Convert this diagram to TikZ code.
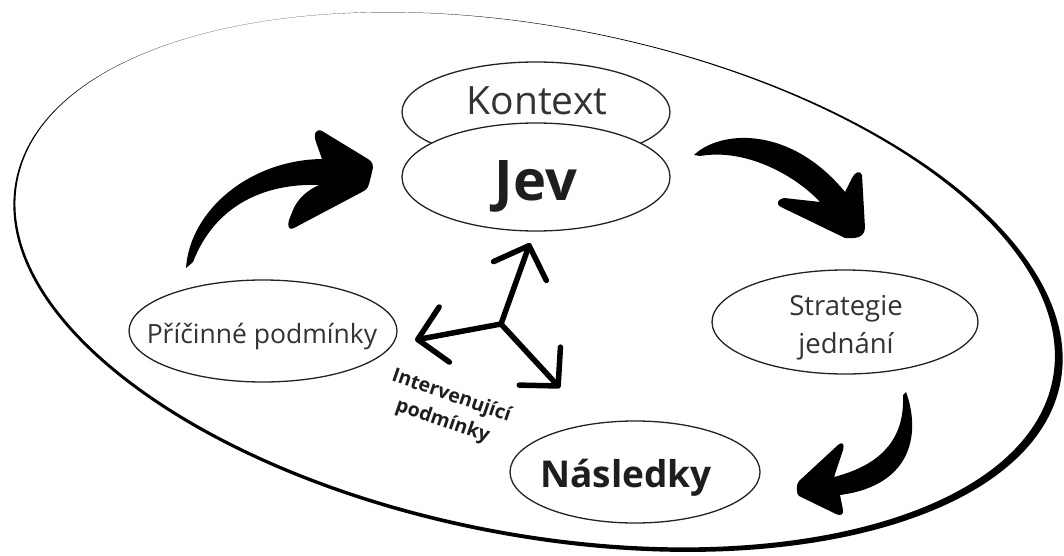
\documentclass[tikz,border=0pt]{standalone}
\usepackage{fontspec}
\setmainfont{Open Sans}
\usetikzlibrary{arrows.meta,shapes.geometric}
\definecolor{txt}{HTML}{333333}
\definecolor{txtb}{HTML}{1E1E1E}
\definecolor{edge}{HTML}{222222}
\tikzset{
  oval/.style={ellipse, draw=edge, line width=1.3pt, fill=white, inner sep=0pt},
  lbl/.style={inner sep=0pt, anchor=base, text=txt},
  hubarrow/.style={line width=5.5pt, line cap=round, line join=round,
    -{Straight Barb[length=27pt,width=56pt,round]}},
  brush/.style={fill=black}
}
\begin{document}
\begin{tikzpicture}[x=1pt,y=-1pt]
\useasboundingbox (0,0) rectangle (1064,556);
% outer brush ellipse (crescent)
\fill[black, even odd rule, shift={(538,282)}, rotate=-10.9]
  (0,0) ellipse [x radius=532, y radius=255]
  (-3.2,-1.6) ellipse [x radius=527, y radius=252.8];

% nodes
\node[oval, minimum width=268pt, minimum height=100pt] (kontext) at (536,112) {};
\node[oval, minimum width=268pt, minimum height=108pt] (jev) at (536,177) {};
\node[oval, minimum width=268pt, minimum height=102pt] (pricinne) at (263,331) {};
\node[oval, minimum width=266pt, minimum height=104pt] (strategie) at (845,322) {};
\node[oval, minimum width=250pt, minimum height=102pt] (nasledky) at (635,472) {};

\node[lbl] (tkontext) at (537,115) {\fontsize{39}{39}\selectfont Kontext};
\node[lbl, text=txtb] (tjev) at (536,200) {\fontsize{56}{56}\selectfont\bfseries Jev};
\node[lbl] (tpricinne) at (262,343) {\fontsize{26.5}{26.5}\selectfont Příčinné podmínky};
\node[lbl] (tstrat1) at (846,315) {\fontsize{27.5}{27.5}\selectfont Strategie};
\node[lbl] (tstrat2) at (846,353) {\fontsize{27.5}{27.5}\selectfont jednání};
\node[lbl, text=txtb] (tnasledky) at (626,487) {\fontsize{37}{37}\selectfont\bfseries Následky};
\node[inner sep=0pt, rotate=-19, align=center, text=txtb,
  font=\fontsize{19.5}{27}\selectfont\bfseries] (tinterv) at (447,409)
  {Intervenující\\ podmínky};

% hub arrows
\coordinate (hub) at (501,324);
\coordinate (tipJ) at (530,243);
\coordinate (tipP) at (415,340);
\coordinate (tipN) at (560,388);
\draw[hubarrow] (hub) -- (tipJ);
\draw[hubarrow] (hub) -- (tipP);
\draw[hubarrow] (hub) -- (tipN);

% brush arrow: Pricinne -> Jev
\fill[brush] (186,268) .. controls (190,210) and (250,160) .. (322,159)
  -- (316,142) .. controls (313,134) and (316,128) .. (322,131)
  -- (368,159) .. controls (373,162) and (374,166) .. (372,172)
  -- (369,184) .. controls (368,188) and (366,190) .. (362,192)
  -- (294,228) .. controls (289,231) and (287,226) .. (289,220)
  -- (293,210) .. controls (298,198) and (308,190) .. (319,185)
  .. controls (265,183) and (215,205) .. (193,262) -- cycle;

% brush arrow: Jev -> Strategie
\fill[brush] (694,155) .. controls (720,130) and (790,125) .. (845,192)
  -- (852,178) .. controls (855,172) and (860,170) .. (862,175)
  -- (865,228) .. controls (865,234) and (860,238) .. (854,238)
  -- (845,238) -- (781,207) .. controls (775,204) and (778,199) .. (784,198)
  -- (820,202) .. controls (795,175) and (745,148) .. (700,156) -- cycle;

% brush arrow: Strategie -> Nasledky
\fill[brush] (906,392) .. controls (920,430) and (915,485) .. (840,495)
  -- (843,510) .. controls (844,515) and (840,516) .. (836,514)
  -- (799,496) .. controls (796,494) and (796,484) .. (799,481)
  -- (838,445) .. controls (842,441) and (845,444) .. (843,450)
  -- (834,477) .. controls (880,465) and (905,440) .. (903,395) -- cycle;
\end{tikzpicture}
\end{document}
